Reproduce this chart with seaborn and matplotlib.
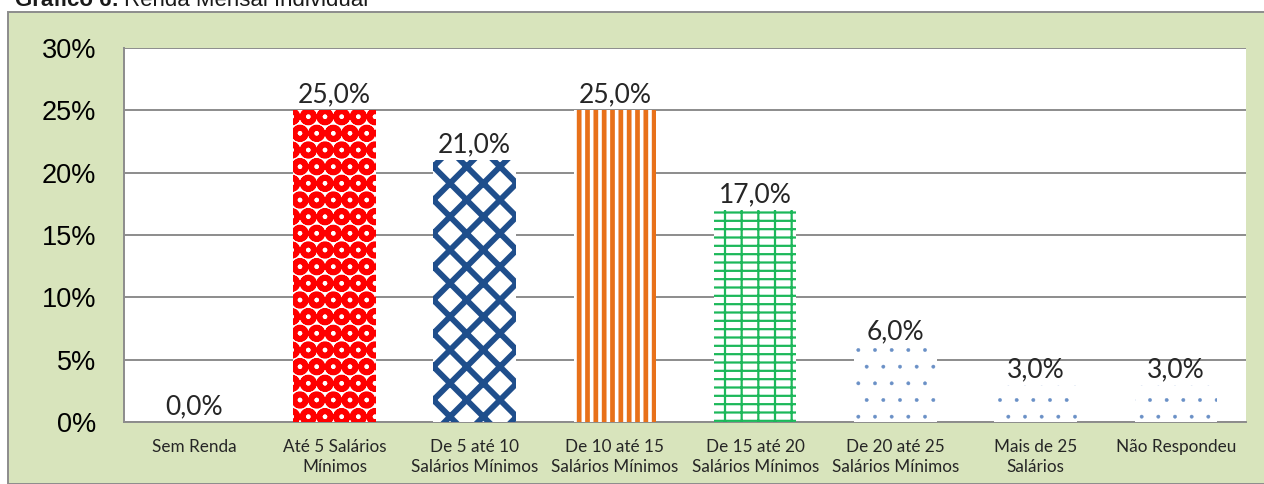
import matplotlib
matplotlib.use('Agg')
import matplotlib.pyplot as plt
from matplotlib.patches import Rectangle
from matplotlib.ticker import FuncFormatter, MultipleLocator
import seaborn as sns
import pandas as pd

# Data
categories = ['Sem Renda', 'Até 5 Salários\nMínimos', 'De 5 até 10\nSalários Mínimos',
              'De 10 até 15\nSalários Mínimos', 'De 15 até 20\nSalários Mínimos',
              'De 20 até 25\nSalários Mínimos', 'Mais de 25\nSalários', 'Não Respondeu']
values = [0.0, 25.0, 21.0, 25.0, 17.0, 6.0, 3.0, 3.0]

# pattern per bar: (hatch, hatch colour, hatch linewidth)
patterns = [('', 'white', 1),
            ('O', '#ff0000', 4.0),
            ('x', '#1f4e8c', 4.2),
            ('||', '#e8711a', 3.4),
            ('+-', '#1cb85a', 1.6),
            ('.', '#6a90c6', 0.3),
            ('.', '#6a90c6', 0.3),
            ('.', '#6a90c6', 0.3)]

df = pd.DataFrame({'categoria': categories, 'valor': values})

sns.set_style('white')
plt.rcParams['font.family'] = ['Liberation Sans', 'DejaVu Sans']

fig = plt.figure(figsize=(12.64, 4.84), dpi=100)
fig.patch.set_facecolor('white')

# green chart area with grey border
fig.patches.append(Rectangle((8 / 1264, 0), 1.0, 1 - 12 / 484, transform=fig.transFigure,
                             facecolor='#d8e4bc', edgecolor='#8c8c8c', linewidth=1.4, zorder=-5))

# title, partly cut at the top like the source
fig.text(15 / 1264, 1 - 6 / 484, 'Gráfico 6:', fontsize=16, fontweight='bold',
         color='#1a1a1a', va='baseline', ha='left')
fig.text(124 / 1264, 1 - 6 / 484, 'Renda Mensal Individual', fontsize=16,
         color='#1a1a1a', va='baseline', ha='left')

ax = fig.add_axes([124 / 1264, 1 - 422 / 484, 1122 / 1264, 374 / 484])
ax.set_facecolor('white')

sns.barplot(data=df, x='categoria', y='valor', ax=ax, width=0.59, color='white',
            linewidth=0, saturation=1)

for bar, (hatch, hcol, hlw) in zip(ax.patches, patterns):
    bar.set_facecolor('white')
    bar.set_edgecolor(hcol)
    bar.set_linewidth(0)
    bar.set_hatch(hatch)
    if hasattr(bar, 'set_hatch_linewidth'):
        bar.set_hatch_linewidth(hlw)
    bar.set_zorder(3)

ax.set_ylim(0, 30)
ax.yaxis.set_major_locator(MultipleLocator(5))
ax.yaxis.set_major_formatter(FuncFormatter(lambda v, p: f'{v:.0f}%'))
ax.grid(axis='y', color='#8c8c8c', linewidth=1.4, zorder=0)
ax.set_axisbelow(True)

for side in ['top', 'right']:
    ax.spines[side].set_visible(False)
ax.spines['left'].set_color('#8c8c8c')
ax.spines['bottom'].set_color('#8c8c8c')
ax.spines['left'].set_linewidth(1.4)
ax.spines['bottom'].set_linewidth(1.4)

ax.tick_params(axis='y', labelsize=19.5, pad=20, length=0, colors='#000000')
ax.tick_params(axis='x', length=0, pad=12)
ax.set_xticks(range(len(categories)))
ax.set_xticklabels(categories, fontsize=12.3, family=['Lato', 'DejaVu Sans'],
                   linespacing=1.3, va='top')
ax.set_xlabel('')
ax.set_ylabel('')

# value labels
for i, v in enumerate(values):
    ax.annotate(f'{v:.1f}%'.replace('.', ','), (i, v), xytext=(0, 2), textcoords='offset points',
                ha='center', va='bottom', fontsize=19, family=['Lato', 'DejaVu Sans'])

fig.savefig('out.png', dpi=100)
